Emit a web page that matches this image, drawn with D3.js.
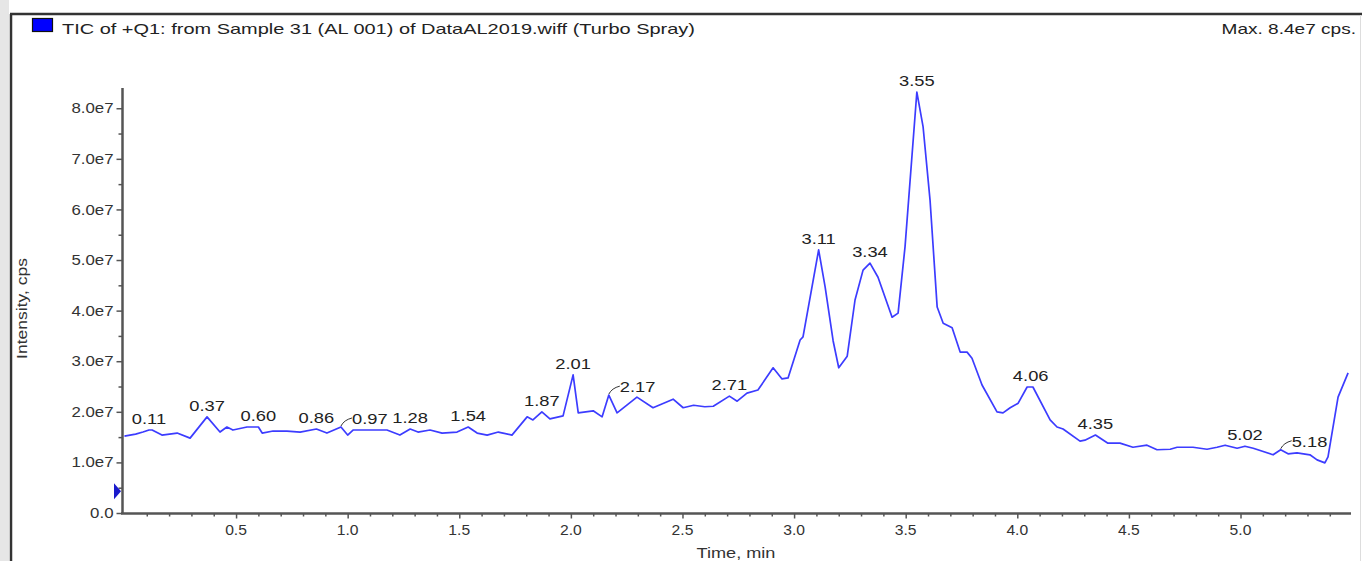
<!DOCTYPE html>
<html>
<head>
<meta charset="utf-8">
<script src="https://cdn.jsdelivr.net/npm/d3@7"></script>
<style>
  body { margin: 0; background: #fff; }
  svg { display: block; font-family: "Liberation Sans", Arial, sans-serif; }
</style>
</head>
<body>
<svg id="chart" width="1362" height="561"></svg>
<script>
// TIC trace: time (min) and intensity (cps)
const times = [0.00, 0.05, 0.083, 0.11, 0.124, 0.168, 0.236, 0.294, 0.37, 0.428, 0.459, 0.486, 0.549, 0.60, 0.617,
  0.666, 0.728, 0.787, 0.86, 0.907, 0.97, 1.00, 1.024, 1.10, 1.176, 1.234, 1.28, 1.315, 1.369, 1.423, 1.49, 1.54,
  1.58, 1.625, 1.675, 1.736, 1.804, 1.83, 1.87, 1.906, 1.965, 2.01, 2.033, 2.10, 2.14, 2.17, 2.207, 2.296, 2.368,
  2.458, 2.503, 2.55, 2.60, 2.638, 2.71, 2.745, 2.789, 2.838, 2.906, 2.946, 2.973, 3.027, 3.04, 3.11, 3.139, 3.175, 3.20,
  3.238, 3.273, 3.309, 3.34, 3.376, 3.439, 3.466, 3.497, 3.55, 3.578, 3.609, 3.641, 3.668, 3.708, 3.744, 3.775,
  3.797, 3.842, 3.909, 3.936, 3.968, 4.004, 4.044, 4.07, 4.147, 4.178, 4.205, 4.281, 4.303, 4.35, 4.406, 4.46,
  4.518, 4.581, 4.626, 4.685, 4.716, 4.787, 4.85, 4.895, 4.931, 4.985, 5.02, 5.057, 5.146, 5.18, 5.213, 5.253,
  5.311, 5.343, 5.378, 5.392, 5.437, 5.482];
const intensity = [1.52e7, 1.56e7, 1.60e7, 1.64e7, 1.64e7, 1.54e7, 1.58e7, 1.48e7, 1.90e7, 1.60e7, 1.70e7, 1.64e7,
  1.70e7, 1.70e7, 1.58e7, 1.62e7, 1.62e7, 1.60e7, 1.66e7, 1.58e7, 1.70e7, 1.54e7, 1.64e7, 1.64e7, 1.64e7, 1.54e7,
  1.66e7, 1.60e7, 1.64e7, 1.58e7, 1.60e7, 1.70e7, 1.58e7, 1.54e7, 1.60e7, 1.54e7, 1.90e7, 1.84e7, 2.00e7, 1.86e7,
  1.92e7, 2.73e7, 1.98e7, 2.02e7, 1.90e7, 2.33e7, 1.98e7, 2.29e7, 2.08e7, 2.25e7, 2.08e7, 2.13e7, 2.10e7, 2.11e7,
  2.31e7, 2.21e7, 2.37e7, 2.43e7, 2.87e7, 2.65e7, 2.67e7, 3.42e7, 3.48e7, 5.20e7, 4.47e7, 3.40e7, 2.87e7, 3.10e7,
  4.21e7, 4.80e7, 4.94e7, 4.66e7, 3.87e7, 3.95e7, 5.26e7, 8.32e7, 7.63e7, 6.19e7, 4.07e7, 3.75e7, 3.66e7, 3.18e7,
  3.18e7, 3.06e7, 2.53e7, 2.00e7, 1.98e7, 2.08e7, 2.17e7, 2.49e7, 2.49e7, 1.84e7, 1.70e7, 1.66e7, 1.42e7, 1.44e7,
  1.54e7, 1.38e7, 1.38e7, 1.30e7, 1.34e7, 1.25e7, 1.26e7, 1.30e7, 1.30e7, 1.26e7, 1.30e7, 1.34e7, 1.28e7, 1.32e7,
  1.28e7, 1.15e7, 1.25e7, 1.17e7, 1.19e7, 1.15e7, 1.05e7, 0.99e7, 1.11e7, 2.29e7, 2.77e7];

// labelled peaks (retention times)
const peakLabels = ["0.11", "0.37", "0.60", "0.86", "0.97", "1.28", "1.54", "1.87", "2.01", "2.17", "2.71",
  "3.11", "3.34", "3.55", "4.06", "4.35", "5.02", "5.18"];
const shiftedLabels = ["0.97", "2.17", "5.18"];   // drawn off to the right with a small leader

const yTicks = [0, 1e7, 2e7, 3e7, 4e7, 5e7, 6e7, 7e7, 8e7];
const xTicks = [0.5, 1.0, 1.5, 2.0, 2.5, 3.0, 3.5, 4.0, 4.5, 5.0];

const title = "TIC of +Q1: from Sample 31 (AL 001) of DataAL2019.wiff (Turbo Spray)";
const maxText = "Max. 8.4e7 cps.";

const data = times.map((t, i) => ({ t, v: intensity[i] }));

const svg = d3.select("#chart");

// the original screenshot has wide, stretched lettering
function stretch(sel, s) {
  sel.each(function() {
    const w = this.getComputedTextLength();
    d3.select(this).attr("textLength", w * s).attr("lengthAdjust", "spacingAndGlyphs");
  });
}

// window frame
svg.append("rect").attr("x", 0).attr("y", 0).attr("width", 9).attr("height", 561).attr("fill", "#e6e6e6");
svg.append("line").attr("x1", 11).attr("x2", 11).attr("y1", 14).attr("y2", 561)
  .attr("stroke", "#333").attr("stroke-width", 2.5);
svg.append("line").attr("x1", 10).attr("x2", 1362).attr("y1", 14).attr("y2", 14)
  .attr("stroke", "#333").attr("stroke-width", 2.5);
svg.append("line").attr("x1", 1360.5).attr("x2", 1360.5).attr("y1", 15).attr("y2", 561)
  .attr("stroke", "#ddd").attr("stroke-width", 1);

// header
svg.append("rect").attr("x", 32.5).attr("y", 18.5).attr("width", 20).attr("height", 13)
  .attr("fill", "#0000ff").attr("stroke", "#111").attr("stroke-width", 1.2);
svg.append("text").attr("x", 62).attr("y", 34).attr("font-size", 15).attr("fill", "#222").text(title)
  .call(stretch, 1.33);
svg.append("text").attr("x", 1356).attr("y", 34).attr("font-size", 15).attr("fill", "#222")
  .attr("text-anchor", "end").text(maxText).call(stretch, 1.27);

const x = d3.scaleLinear().domain([-0.011, 5.495]).range([122, 1351]);
const y = d3.scaleLinear().domain([0, 8.4e7]).range([513, 88]);

const axisColor = "#555";

// y axis
const gy = svg.append("g").attr("transform", "translate(122.5,0)");
gy.call(d3.axisLeft(y).tickValues(d3.range(0, 8.5e7, 0.5e7)).tickSize(4).tickFormat(""));
gy.call(g => g.select(".domain").remove());
gy.selectAll(".tick line").attr("stroke", axisColor).attr("stroke-width", 1.5);
gy.selectAll(".tick").filter(d => yTicks.includes(d)).select("line").attr("x2", -6);
gy.append("line").attr("x1", 0).attr("x2", 0).attr("y1", y(8.4e7)).attr("y2", y(0) + 1)
  .attr("stroke", axisColor).attr("stroke-width", 2.5);
gy.selectAll(".ylab").data(yTicks).join("text")
  .attr("class", "ylab")
  .attr("x", -9).attr("y", d => y(d)).attr("dy", "0.35em")
  .attr("text-anchor", "end").attr("font-size", 14.5).attr("fill", "#333")
  .text(d => d === 0 ? "0.0" : (d / 1e7).toFixed(1) + "e7")
  .call(stretch, 1.16);

svg.append("text")
  .attr("transform", `translate(27,${(y(0) + y(8.4e7)) / 2 + 8}) rotate(-90)`)
  .attr("text-anchor", "middle").attr("font-size", 14).attr("fill", "#333")
  .text("Intensity, cps").call(stretch, 1.25);

// x axis
const gx = svg.append("g").attr("transform", "translate(0,513.5)");
gx.call(d3.axisBottom(x).tickValues(d3.range(1, 55).map(d => d / 10)).tickSize(3).tickFormat(""));
gx.call(g => g.select(".domain").remove());
gx.selectAll(".tick line").attr("stroke", axisColor).attr("stroke-width", 1.5);
gx.selectAll(".tick").filter(d => xTicks.some(v => Math.abs(v - d) < 1e-9)).select("line").attr("y2", 5);
gx.append("line").attr("x1", 121).attr("x2", x(5.495)).attr("y1", 0).attr("y2", 0)
  .attr("stroke", axisColor).attr("stroke-width", 2.5);
gx.selectAll(".xlab").data(xTicks).join("text")
  .attr("class", "xlab")
  .attr("x", d => x(d)).attr("y", 21)
  .attr("text-anchor", "middle").attr("font-size", 14.5).attr("fill", "#333")
  .text(d => d.toFixed(1))
  .call(stretch, 1.08);

svg.append("text").attr("x", 736).attr("y", 558).attr("text-anchor", "middle")
  .attr("font-size", 14.5).attr("fill", "#333").text("Time, min").call(stretch, 1.25);

// trace
const line = d3.line().x(d => x(d.t)).y(d => y(d.v));
svg.append("path").datum(data)
  .attr("fill", "none").attr("stroke", "#3c3cff").attr("stroke-width", 1.7)
  .attr("stroke-linejoin", "round").attr("d", line);

// start marker
const m = y(0.43e7);
svg.append("path")
  .attr("d", `M114,${m - 8} L121,${m} L114,${m + 8} Z`)
  .attr("fill", "#1a1acc");

// peak labels
peakLabels.forEach(lbl => {
  const t = +lbl;
  const p = data.reduce((a, b) => Math.abs(b.t - t) < Math.abs(a.t - t) ? b : a);
  const px = x(t), py = y(p.v);
  const g = svg.append("g");
  if (shiftedLabels.includes(lbl)) {
    g.append("path")
      .attr("d", `M${px},${py - 1} q3,-6 11,-8`)
      .attr("fill", "none").attr("stroke", "#333").attr("stroke-width", 1);
    g.append("text").attr("x", px + 11).attr("y", py - 3)
      .attr("font-size", 15).attr("fill", "#222").text(lbl).call(stretch, 1.22);
  } else {
    g.append("text").attr("x", px).attr("y", py - 6)
      .attr("text-anchor", "middle").attr("font-size", 15).attr("fill", "#222").text(lbl)
      .call(stretch, 1.22);
  }
});
</script>
</body>
</html>
